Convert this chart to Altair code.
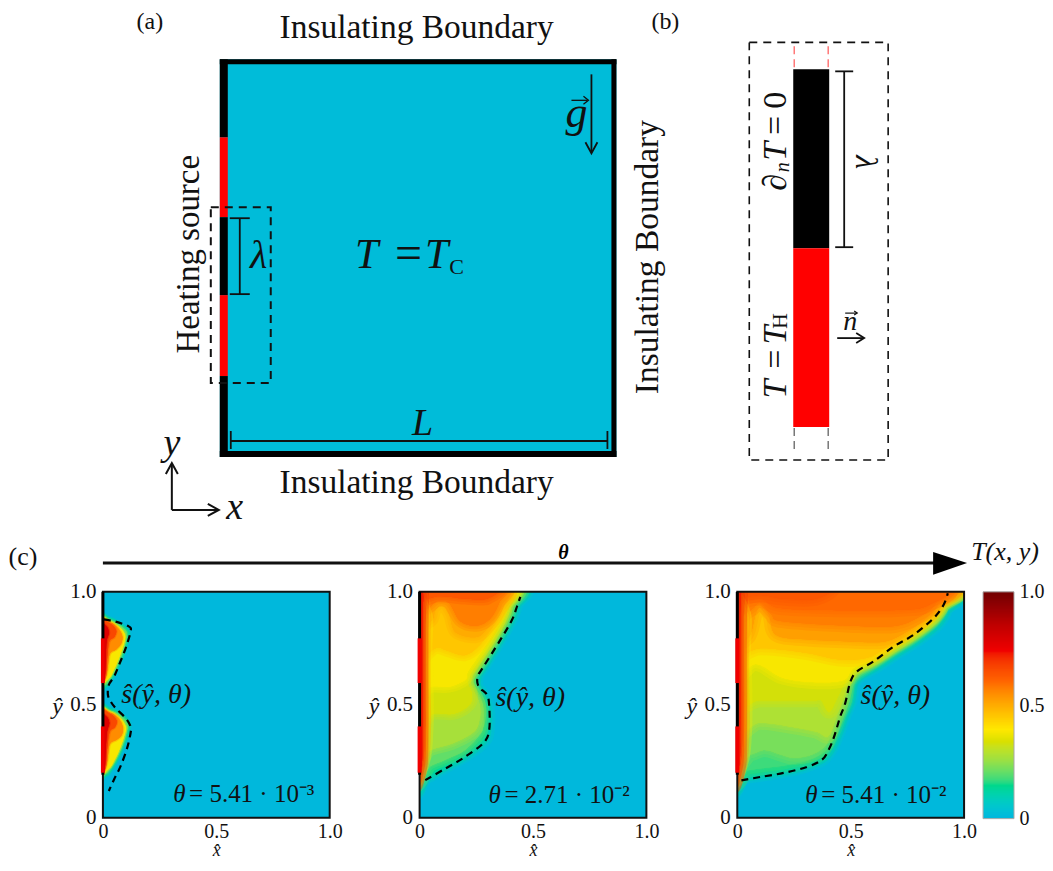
import altair as alt
import pandas as pd

FONT = "Liberation Serif"
BLUE = "#00bcd9"
T_STOPS = [0, 0.146, 0.26, 0.336, 0.39, 0.51, 0.61, 0.737, 0.85, 1.0]
T_COLORS = ["#00b8dc", "#00d88a", "#a0e040", "#d8e000", "#ffe800", "#ffa500", "#ff6000", "#f00000", "#c00000", "#700000"]
color_scale = alt.Scale(domain=T_STOPS, range=T_COLORS, clamp=True)

# ---------- schematic (page-like units) ----------
CANVAS_X = [8, 1045]
CANVAS_Y = [580, 8]

RECT_X = [219, 219, 219, 219, 219, 219, 219, 611, 793, 793]
RECT_X2 = [616, 227, 227, 227, 227, 227, 616, 616, 829, 829]
RECT_Y = [59, 59, 137, 217, 295, 376, 59, 59, 69, 248]
RECT_Y2 = [457, 137, 217, 295, 376, 457, 64, 457, 248, 427]
RECT_C = [BLUE, "#000", "#ff0000", "#000", "#ff0000", "#000", "#000", "#000", "#000", "#ff0000"]
BOTTOM_BAR = [219, 616, 451, 457]

SOLID_LINES = [
    ([239, 239], [218, 294], 1.8), ([229, 249], [218, 218], 1.8), ([229, 249], [294, 294], 1.8),
    ([230, 607], [441, 441], 1.8), ([230, 230], [431, 449], 1.8), ([607, 607], [431, 449], 1.8),
    ([591, 591], [74, 152], 1.8), ([585, 591, 597], [142, 153, 142], 1.8),
    ([571, 587], [100, 100], 1.3), ([583, 588, 583], [96, 100, 104], 1.3),
    ([171, 171], [510, 464], 2), ([165, 171, 177], [474, 463, 474], 2),
    ([171, 217], [510, 510], 2), ([207, 218, 207], [504, 510, 516], 2),
    ([844, 844], [71, 247], 1.8), ([835, 853], [71, 71], 1.8), ([835, 853], [247, 247], 1.8),
    ([837, 863], [338, 338], 1.8), ([856, 864, 856], [333, 338, 343], 1.8),
    ([845, 857], [313, 313], 1.2), ([854, 857, 854], [311, 313, 315], 1.2),
    ([102, 935], [563, 563], 3),
]
DASH_BLACK = [
    ([210, 270, 270, 210, 210], [207, 207, 383, 383, 207], 2),
    ([749, 888, 888, 749, 749], [42, 42, 460, 460, 42], 1.6),
]
DASH_PINK = [([794, 794], [46, 69]), ([828, 828], [46, 69])]
DASH_GREY = [([794, 794], [428, 453]), ([828, 828], [428, 453])]
HEAD_X = [933, 967, 933]
HEAD_Y = [552, 563, 575]

ROMAN_TEXT = ["(a)", "(b)", "(c)", "Insulating Boundary", "Insulating Boundary", "Insulating Boundary", "Heating source",
              "=", "=", "=", "0", "C", "H"]
ROMAN_X = [149, 665, 22, 416, 416, 648, 188, 408, 776, 776, 776, 456, 780]
ROMAN_Y = [22, 22, 557, 28, 483, 257, 254, 255, 359, 125, 100, 267, 321]
ROMAN_S = [24, 24, 26, 33.5, 33.5, 33.5, 33, 48, 34, 34, 34, 22, 22]
ROMAN_A = [0, 0, 0, 0, 0, 270, 270, 0, 270, 270, 270, 0, 270]

ITALIC_TEXT = ["T", "T", "λ", "L", "g", "y", "x", "λ", "∂", "n", "T", "T", "T", "n", "T(x, y)"]
ITALIC_X = [366, 436, 258, 422, 576, 171, 234, 866, 776, 783, 776, 776, 776, 850, 1005]
ITALIC_Y = [255, 255, 256, 424, 114, 444, 508, 162, 182, 167, 151, 389, 335, 322, 552]
ITALIC_S = [42, 42, 40, 38, 44, 38, 38, 32, 34, 20, 34, 34, 34, 28, 26]
ITALIC_A = [0, 0, 0, 0, 0, 0, 0, 90, 270, 270, 270, 270, 270, 0, 0]

# ---------- field panels: painter's stacks of closed iso-temperature outlines ----------
P1_LEVELS = [0.12, 0.2, 0.38, 0.55, 0.66, 0.78,
             0.12, 0.2, 0.38, 0.55, 0.66, 0.78]
P1_POLYS = [
    [(-.03,.89),(.03,.885),(.07,.865),(.115,.825),(.108,.77),(.088,.71),(.058,.645),(.032,.60),(.016,.58),(-.03,.575)],
    [(-.03,.88),(.03,.875),(.07,.855),(.105,.82),(.098,.77),(.08,.71),(.052,.65),(.028,.61),(.012,.59),(-.03,.585)],
    [(-.03,.875),(.03,.87),(.07,.845),(.097,.81),(.092,.77),(.072,.71),(.046,.65),(.024,.615),(-.03,.595)],
    [(-.03,.87),(.03,.865),(.065,.84),(.085,.805),(.08,.77),(.058,.745),(.03,.725),(.02,.655),(.006,.61),(-.03,.6)],
    [(-.03,.865),(.03,.86),(.058,.83),(.05,.80),(.028,.78),(.018,.70),(.008,.625),(-.03,.6)],
    [(-.03,.86),(.012,.85),(.026,.82),(.016,.78),(.012,.7),(.005,.61),(-.03,.6)],
    [(-.03,.49),(.03,.485),(.075,.465),(.118,.42),(.112,.37),(.09,.31),(.06,.245),(.032,.20),(.016,.185),(-.03,.18)],
    [(-.03,.48),(.03,.475),(.075,.455),(.108,.415),(.102,.37),(.082,.31),(.054,.25),(.028,.21),(.012,.195),(-.03,.19)],
    [(-.03,.475),(.03,.47),(.072,.445),(.1,.405),(.096,.37),(.076,.31),(.048,.25),(.024,.215),(-.03,.195)],
    [(-.03,.47),(.03,.465),(.068,.44),(.088,.40),(.082,.365),(.06,.345),(.03,.325),(.02,.255),(.006,.21),(-.03,.2)],
    [(-.03,.465),(.03,.46),(.06,.43),(.052,.40),(.03,.38),(.018,.30),(.008,.225),(-.03,.2)],
    [(-.03,.46),(.012,.45),(.028,.42),(.018,.38),(.012,.3),(.005,.21),(-.03,.2)],
]
P1_DASH_X = [.004,.056,.115,.122,.100,.071,.049,.026,.022,.034,.056,.100,.122,.122,.107,.078,.049,.026]
P1_DASH_Y = [.878,.868,.846,.824,.750,.676,.624,.588,.544,.515,.485,.441,.404,.375,.309,.228,.169,.118]

P2_LEVELS = [0.08, 0.14, 0.2, 0.27, 0.33, 0.38, 0.45, 0.5, 0.57, 0.63, 0.38, 0.55, 0.72]
P2_POLYS = [
    [(-.03,.16),(.03,.175),(.11,.22),(.2,.27),(.285,.335),(.305,.39),(.305,.49),(.285,.54),(.255,.585),(.26,.63),(.285,.67),(.355,.785),(.405,.875),(.43,.94),(.45,1.03),(-.03,1.03)],
    [(-.03,.17),(.03,.185),(.10,.225),(.19,.275),(.27,.34),(.29,.39),(.29,.49),(.27,.54),(.245,.585),(.25,.63),(.275,.67),(.345,.785),(.395,.875),(.42,.94),(.44,1.03),(-.03,1.03)],
    [(-.03,.19),(.05,.23),(.12,.26),(.2,.30),(.26,.36),(.28,.40),(.28,.49),(.26,.54),(.235,.59),(.24,.63),(.265,.67),(.335,.785),(.385,.875),(.41,.94),(.43,1.03),(-.03,1.03)],
    [(-.03,.26),(.05,.30),(.15,.33),(.24,.38),(.265,.44),(.265,.5),(.25,.54),(.225,.59),(.23,.63),(.255,.67),(.325,.785),(.375,.875),(.40,.94),(.42,1.03),(-.03,1.03)],
    [(-.03,.42),(.06,.46),(.15,.46),(.22,.50),(.23,.55),(.21,.6),(.22,.63),(.245,.67),(.315,.785),(.365,.875),(.39,.94),(.41,1.03),(-.03,1.03)],
    [(-.03,.55),(.05,.58),(.13,.58),(.2,.61),(.21,.64),(.235,.68),(.305,.785),(.355,.875),(.38,.94),(.40,1.03),(-.03,1.03)],
    [(-.03,.7),(.07,.75),(.12,.74),(.2,.72),(.27,.77),(.34,.875),(.37,.94),(.39,1.03),(-.03,1.03)],
    [(-.03,.85),(.05,.87),(.07,.92),(.10,.94),(.13,.90),(.16,.82),(.25,.80),(.30,.84),(.35,.91),(.38,1.03),(-.03,1.03)],
    [(-.03,.9),(.04,.93),(.08,.96),(.13,.95),(.18,.87),(.25,.85),(.31,.88),(.35,.95),(.37,1.03),(-.03,1.03)],
    [(-.03,.95),(.08,.98),(.2,.97),(.3,.97),(.34,1.03),(-.03,1.03)],
    [(-.03,.2),(.02,.25),(.035,.4),(.035,.6),(.03,.75),(.03,.9),(-.03,.92)],
    [(-.03,.19),(.012,.23),(.024,.4),(.022,.6),(.022,.8),(.022,.95),(-.03,.98)],
    [(-.03,.19),(.008,.23),(.013,.4),(.013,.7),(.013,.9),(.013,1.0),(-.03,1.03)],
]
P2_DASH_X = [.025,.106,.194,.282,.307,.307,.297,.260,.256,.282,.356,.407,.429,.444]
P2_DASH_Y = [.166,.213,.265,.331,.390,.493,.544,.581,.625,.669,.787,.875,.934,.978]

P3_LEVELS = [0.08, 0.14, 0.17, 0.22, 0.28, 0.33, 0.38, 0.45, 0.52, 0.57, 0.6, 0.63, 0.38, 0.55, 0.72]
P3_POLYS = [
    [(-.03,.17),(.03,.18),(.10,.19),(.2,.205),(.3,.23),(.375,.26),(.415,.31),(.45,.39),(.475,.46),(.5,.52),(.515,.60),(.55,.635),(.62,.675),(.71,.735),(.79,.785),(.88,.855),(.92,.92),(.945,1.03),(-.03,1.03)],
    [(-.03,.18),(.03,.19),(.10,.2),(.2,.215),(.3,.24),(.37,.27),(.41,.32),(.44,.39),(.465,.46),(.49,.52),(.505,.60),(.54,.64),(.61,.68),(.70,.74),(.78,.79),(.87,.86),(.91,.92),(.935,1.03),(-.03,1.03)],
    [(-.03,.2),(.05,.21),(.12,.22),(.2,.23),(.3,.25),(.365,.28),(.40,.33),(.43,.39),(.455,.46),(.48,.52),(.495,.60),(.53,.64),(.6,.685),(.69,.745),(.77,.795),(.86,.865),(.905,.93),(.93,1.03),(-.03,1.03)],
    [(-.03,.27),(.06,.28),(.12,.3),(.19,.28),(.25,.265),(.33,.28),(.39,.32),(.42,.39),(.45,.46),(.475,.52),(.49,.6),(.525,.645),(.6,.69),(.69,.75),(.77,.80),(.86,.87),(.905,.935),(.93,1.03),(-.03,1.03)],
    [(-.03,.4),(.1,.42),(.25,.40),(.35,.38),(.40,.36),(.435,.44),(.465,.52),(.485,.6),(.52,.65),(.6,.695),(.69,.755),(.77,.805),(.86,.875),(.905,.94),(.93,1.03),(-.03,1.03)],
    [(-.03,.52),(.1,.52),(.25,.52),(.34,.52),(.37,.52),(.405,.47),(.44,.53),(.475,.6),(.515,.655),(.6,.70),(.69,.76),(.77,.81),(.86,.88),(.905,.94),(.93,1.03),(-.03,1.03)],
    [(-.03,.62),(.08,.68),(.2,.62),(.35,.60),(.47,.61),(.51,.66),(.6,.705),(.69,.765),(.77,.815),(.86,.885),(.9,.945),(.925,1.03),(-.03,1.03)],
    [(-.03,.72),(.1,.75),(.3,.73),(.45,.70),(.58,.71),(.68,.77),(.76,.82),(.85,.89),(.895,.945),(.92,1.03),(-.03,1.03)],
    [(-.03,.78),(.05,.8),(.08,.9),(.1,.93),(.14,.9),(.17,.81),(.3,.79),(.5,.78),(.65,.78),(.75,.825),(.84,.89),(.885,.945),(.915,1.03),(-.03,1.03)],
    [(-.03,.88),(.06,.92),(.1,.95),(.15,.9),(.2,.87),(.5,.85),(.7,.85),(.82,.9),(.875,.95),(.905,1.03),(-.03,1.03)],
    [(-.03,.95),(.1,.97),(.18,.93),(.4,.92),(.7,.92),(.84,.94),(.885,1.03),(-.03,1.03)],
    [(-.03,.97),(.1,.985),(.2,.97),(.35,.97),(.4,1.03),(-.03,1.03)],
    [(-.03,.2),(.02,.25),(.035,.4),(.035,.6),(.03,.75),(.03,.9),(-.03,.92)],
    [(-.03,.19),(.012,.23),(.024,.4),(.022,.6),(.022,.8),(.022,.95),(-.03,.98)],
    [(-.03,.19),(.008,.23),(.013,.4),(.013,.7),(.013,.9),(.013,1.0),(-.03,1.03)],
]
P3_DASH_X = [.018,.101,.204,.307,.374,.403,.425,.454,.476,.499,.528,.601,.69,.778,.866,.91,.928]
P3_DASH_Y = [.165,.18,.198,.224,.257,.301,.353,.448,.507,.603,.648,.692,.758,.81,.884,.943,.994]

PANEL_S_X = [.235, .488, .697]
PANEL_S_Y = [.544, .53, .537]
PANEL_THETA = ["= 5.41 · 10⁻³", "= 2.71 · 10⁻²", "= 5.41 · 10⁻²"]
PANEL_TH_X = [.31, .304, .30]
PANEL_TH_Y = [.103, .10, .10]
PANEL_SOFTEN = [[3, 1.5], [12, 7, 3], [14, 8, 3]]
HEAT_SEGMENTS = [(.199, .404), (.596, .794)]
BAR_LEVELS = [i / 200 for i in range(200)]
AX_VALUES = [0, 0.5, 1.0]
LABEL_EXPR = "datum.value == 0 ? '0' : datum.value == 1 ? '1.0' : '0.5'"
SPACERS = [94, 90, 91, 19]


def lines_df(items):
    rows, k = [], 0
    for i, it in enumerate(items):
        xs, ys = it[0], it[1]
        w = it[2] if len(it) > 2 else 1.5
        for x, y in zip(xs, ys):
            rows.append(dict(id=i, k=k, x=x, y=y, w=w))
            k += 1
    return pd.DataFrame(rows)


xs = alt.Scale(domain=CANVAS_X, nice=False, zero=False)
ys = alt.Scale(domain=CANVAS_Y, nice=False, zero=False)
X = alt.X("x:Q", scale=xs, axis=None)
Y = alt.Y("y:Q", scale=ys, axis=None)


def line_layer(items, **kw):
    return alt.Chart(lines_df(items)).mark_line(**kw).encode(
        x=X, y=Y, detail="id:N", order="k:Q",
        strokeWidth=alt.StrokeWidth("w:Q", scale=None))


rect_df = pd.DataFrame(dict(x=RECT_X, x2=RECT_X2, y=RECT_Y, y2=RECT_Y2, c=RECT_C))
rects = alt.Chart(rect_df).mark_rect().encode(
    x=X, x2="x2:Q", y=Y, y2="y2:Q", color=alt.Color("c:N", scale=None))
bottom = alt.Chart(pd.DataFrame([dict(x=BOTTOM_BAR[0], x2=BOTTOM_BAR[1], y=BOTTOM_BAR[2], y2=BOTTOM_BAR[3])])).mark_rect(color="#000").encode(
    x=X, x2="x2:Q", y=Y, y2="y2:Q")


def text_layer(tx, x, y, s, a, style):
    df = pd.DataFrame(dict(t=tx, x=x, y=y, s=s, a=a))
    return alt.Chart(df).mark_text(font=FONT, fontStyle=style, align="center", baseline="middle", color="#111").encode(
        x=X, y=Y, text="t:N", size=alt.Size("s:Q", scale=None), angle=alt.Angle("a:Q", scale=None))


head = alt.Chart(lines_df([(HEAD_X, HEAD_Y)])).mark_line(filled=True, color="#000", interpolate="linear-closed").encode(
    x=X, y=Y, detail="id:N", order="k:Q")
theta_arrow_label = alt.Chart(pd.DataFrame([dict(x=563, y=553, t="θ")])).mark_text(
    font=FONT, fontStyle="italic", fontWeight="bold", fontSize=20, color="#000").encode(x=X, y=Y, text="t:N")

top = alt.layer(
    rects, bottom,
    line_layer(SOLID_LINES, color="#111"),
    line_layer(DASH_BLACK, color="#111", strokeDash=[8, 6]),
    line_layer(DASH_PINK, color="#ff7878", strokeDash=[8, 5], strokeWidth=1.5),
    line_layer(DASH_GREY, color="#777", strokeDash=[8, 5], strokeWidth=1.5),
    head, theta_arrow_label,
    text_layer(ROMAN_TEXT, ROMAN_X, ROMAN_Y, ROMAN_S, ROMAN_A, "normal"),
    text_layer(ITALIC_TEXT, ITALIC_X, ITALIC_Y, ITALIC_S, ITALIC_A, "italic"),
).properties(width=1037, height=572)

# ---------- panels ----------
ux = alt.Scale(domain=[0, 1], nice=False, zero=False)
uy = alt.Scale(domain=[0, 1], nice=False, zero=False)
x_axis = alt.Axis(values=AX_VALUES, labelExpr=LABEL_EXPR, grid=False, ticks=False, domain=False,
                  labelFont=FONT, labelFontSize=20, labelColor="#111", labelPadding=4, labelFlush=False,
                  title="x̂", titleFont=FONT, titleFontSize=18, titleFontStyle="italic", titleFontWeight="normal",
                  titleColor="#111", titlePadding=0)
y_axis = alt.Axis(values=AX_VALUES, labelExpr=LABEL_EXPR, grid=False, ticks=False, domain=False,
                  labelFont=FONT, labelFontSize=21, labelColor="#111", labelPadding=7, labelFlush=False,
                  title="ŷ", titleFont=FONT, titleFontSize=24, titleFontStyle="italic", titleFontWeight="normal",
                  titleColor="#111", titleAngle=0, titleX=-46, titleY=115, titleBaseline="middle")
PX = alt.X("x:Q", scale=ux, axis=x_axis)
PY = alt.Y("y:Q", scale=uy, axis=y_axis)


def panel(levels, polys, dx, dy, idx):
    rows, k = [], 0
    gid = 0
    for lv, poly in zip(levels, polys):
        for w in PANEL_SOFTEN[idx] + [0]:
            for (px, py) in poly:
                rows.append(dict(id=gid, k=k, x=px, y=py, T=lv, w=w))
                k += 1
            gid += 1
    bg = alt.Chart(pd.DataFrame([dict(x=0, x2=1, y=0, y2=1, T=0.0)])).mark_rect().encode(
        x=PX, x2="x2:Q", y=PY, y2="y2:Q",
        color=alt.Color("T:Q", scale=color_scale, legend=None))
    shapes = alt.Chart(pd.DataFrame(rows)).mark_line(
        filled=True, clip=True, interpolate="cardinal-closed", strokeOpacity=0.3, strokeJoin="round").encode(
        x=PX, y=PY, detail="id:N", order="k:Q",
        fill=alt.Fill("T:Q", scale=color_scale, legend=None),
        stroke=alt.Stroke("T:Q", scale=color_scale, legend=None),
        strokeWidth=alt.StrokeWidth("w:Q", scale=None))
    frame = alt.Chart(pd.DataFrame([dict(x=0, x2=1, y=0, y2=1)])).mark_rect(fillOpacity=0, stroke="#111", strokeWidth=2).encode(
        x=PX, x2="x2:Q", y=PY, y2="y2:Q")
    wall_black = alt.Chart(pd.DataFrame(dict(x=[0, 0], y=[0.19, 1.0], k=[0, 1]))).mark_line(color="#000", strokeWidth=3).encode(
        x=PX, y=PY, order="k:Q")
    hrows, k = [], 0
    for i, (a, b) in enumerate(HEAT_SEGMENTS):
        hrows += [dict(id=i, k=k, x=0, y=a), dict(id=i, k=k + 1, x=0, y=b)]
        k += 2
    heat = alt.Chart(pd.DataFrame(hrows)).mark_line(color="#f00000", strokeWidth=4).encode(
        x=PX, y=PY, detail="id:N", order="k:Q")
    dash_df = pd.DataFrame(dict(x=dx, y=dy, k=range(len(dx))))
    dash = alt.Chart(dash_df).mark_line(color="#000", strokeWidth=2.2, strokeDash=[7, 5], interpolate="cardinal").encode(
        x=PX, y=PY, order="k:Q")
    s_label = alt.Chart(pd.DataFrame([dict(x=PANEL_S_X[idx], y=PANEL_S_Y[idx], t="ŝ(ŷ, θ)")])).mark_text(
        font=FONT, fontStyle="italic", fontSize=28, color="#111").encode(x=PX, y=PY, text="t:N")
    th1 = alt.Chart(pd.DataFrame([dict(x=PANEL_TH_X[idx], y=PANEL_TH_Y[idx], t="θ")])).mark_text(
        font=FONT, fontStyle="italic", fontSize=25, color="#111", align="left").encode(x=PX, y=PY, text="t:N")
    th2 = alt.Chart(pd.DataFrame([dict(x=PANEL_TH_X[idx] + .07, y=PANEL_TH_Y[idx], t=PANEL_THETA[idx])])).mark_text(
        font=FONT, fontSize=25, color="#111", align="left").encode(x=PX, y=PY, text="t:N")
    return alt.layer(bg, shapes, frame, wall_black, heat, dash, s_label, th1, th2).properties(width=227, height=226)


p1 = panel(P1_LEVELS, P1_POLYS, P1_DASH_X, P1_DASH_Y, 0)
p2 = panel(P2_LEVELS, P2_POLYS, P2_DASH_X, P2_DASH_Y, 1)
p3 = panel(P3_LEVELS, P3_POLYS, P3_DASH_X, P3_DASH_Y, 2)

CB_Y = alt.Y("y:Q", scale=alt.Scale(domain=[0, 1], nice=False, zero=False),
             axis=alt.Axis(orient="right", values=AX_VALUES, labelExpr=LABEL_EXPR, grid=False, ticks=False, domain=False,
                           labelFont=FONT, labelFontSize=20, labelColor="#111", labelPadding=5, labelFlush=False, title=None))
bar_df = pd.DataFrame(dict(y=BAR_LEVELS, y2=[min(v + 0.012, 1.0) for v in BAR_LEVELS], T=BAR_LEVELS))
cb_fill = alt.Chart(bar_df).mark_rect().encode(
    y=CB_Y, y2="y2:Q", color=alt.Color("T:Q", scale=color_scale, legend=None))
cb_frame = alt.Chart(pd.DataFrame([dict(y=0, y2=1)])).mark_rect(fillOpacity=0, stroke="#aaaaaa", strokeWidth=1).encode(
    y=CB_Y, y2="y2:Q")
cb = alt.layer(cb_fill, cb_frame).properties(width=31, height=227)


def spacer(w):
    return alt.Chart(pd.DataFrame(dict(a=[0]))).mark_point(opacity=0, size=1).encode(
        x=alt.value(w / 2), y=alt.value(5)).properties(width=w, height=10)


row = alt.hconcat(spacer(SPACERS[0]), p1, spacer(SPACERS[1]), p2, spacer(SPACERS[2]), p3, spacer(SPACERS[3]), cb,
                  spacing=0, bounds="flush")
chart = alt.vconcat(top, row, spacing=12, bounds="flush").properties(
    padding={"left": 0, "top": 0, "right": 0, "bottom": 2}).configure_view(stroke=None)
chart.save("out.html", embed_options={"renderer": "svg", "actions": False})
